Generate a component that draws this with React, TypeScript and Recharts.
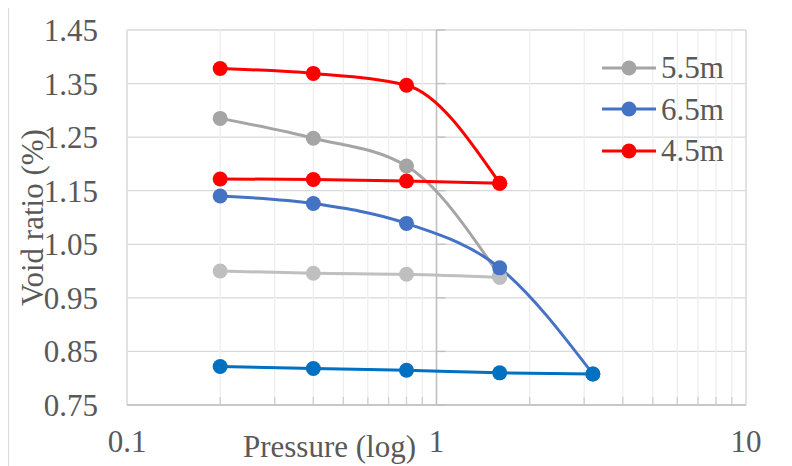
import React from 'react';
import { LineChart, Line, XAxis, YAxis, CartesianGrid, ReferenceLine } from 'recharts';

// applied pressure steps (log axis)
const pressures = [0.2, 0.4, 0.8, 1.6, 3.2];

// void ratio readings, loading then unloading branches
const load55 = [1.285, 1.248, 1.196, 0.991];
const unload55 = [1.0, 0.996, 0.994, 0.988];
const load65 = [1.14, 1.126, 1.089, 1.006, 0.808];
const unload65 = [0.822, 0.818, 0.815, 0.81, 0.808];
const load45 = [1.378, 1.369, 1.347, 1.164];
const unload45 = [1.172, 1.171, 1.168, 1.164];

const yTicks = [0.75, 0.85, 0.95, 1.05, 1.15, 1.25, 1.35, 1.45];
const xTicks = [0.1, 0.2, 0.3, 0.4, 0.5, 0.6, 0.7, 0.8, 0.9, 1, 2, 3, 4, 5, 6, 7, 8, 9, 10];
const xLabels = [0.1, 1, 10];
const minorTicks = xTicks.filter(t => !xLabels.includes(t));

const legendItems = [
  { name: '5.5m', color: '#A5A5A5' },
  { name: '6.5m', color: '#4472C4' },
  { name: '4.5m', color: '#FF0000' },
];

const toPoints = (vals: number[]) => vals.map((v, i) => ({ p: pressures[i], v }));

const series = [
  { key: 'l55', data: toPoints(load55), color: '#A5A5A5' },
  { key: 'u55', data: toPoints(unload55), color: '#BFBFBF' },
  { key: 'l65', data: toPoints(load65), color: '#4472C4' },
  { key: 'u65', data: toPoints(unload65), color: '#0070C0' },
  { key: 'l45', data: toPoints(load45), color: '#FF0000' },
  { key: 'u45', data: toPoints(unload45), color: '#FF0000' },
];

const FONT = '"Liberation Serif", "Times New Roman", serif';
const TEXT = '#595959';

// legend sits inside the plot area, so it is kept out of recharts' layout
const ChartLegend = () => (
  <div style={{ position: 'absolute', left: 594, top: 39, fontFamily: FONT }}>
    {legendItems.map(item => (
      <div key={item.name} style={{ display: 'flex', alignItems: 'center', height: 41.5 }}>
        <svg width={56} height={20}>
          <line x1={0} y1={10} x2={54} y2={10} stroke={item.color} strokeWidth={3} />
          <circle cx={27} cy={10} r={7.5} fill={item.color} />
        </svg>
        <span style={{ marginLeft: 3, fontSize: 31, color: TEXT, lineHeight: 1 }}>{item.name}</span>
      </div>
    ))}
  </div>
);

export default function App() {
  return (
    <div style={{ position: 'relative', width: 784, height: 458, fontFamily: FONT }}>
      <div
        style={{
          position: 'absolute',
          left: 0,
          top: -2,
          width: 784,
          height: 460,
          borderLeft: '1px solid #d9d9d9',
          borderTop: '1px solid #d9d9d9',
          boxSizing: 'border-box',
        }}
      />
      <LineChart width={784} height={458} margin={{ top: 22, right: 46, left: 10, bottom: 21 }}>
        <CartesianGrid vertical={false} stroke="#d9d9d9" strokeWidth={1.3} />
        <CartesianGrid horizontal={false} stroke="#eeeeee" strokeWidth={1.3} />
        <XAxis
          dataKey="p"
          type="number"
          scale="log"
          domain={[0.1, 10]}
          ticks={xTicks}
          interval={0}
          allowDataOverflow
          height={40}
          axisLine={{ stroke: '#bfbfbf', strokeWidth: 1.3 }}
          tickLine={false}
          tickSize={0}
          tickMargin={25}
          tick={{ fontSize: 31, fill: TEXT, fontFamily: FONT }}
          tickFormatter={(t: number) => (xLabels.includes(t) ? String(t) : '')}
          label={{ value: 'Pressure (log)', position: 'insideBottom', offset: -12, dx: -107, fill: TEXT, fontSize: 31, fontFamily: FONT }}
        />
        <YAxis
          type="number"
          domain={[0.75, 1.45]}
          ticks={yTicks}
          interval={0}
          width={109}
          axisLine={false}
          tickLine={false}
          tickSize={0}
          tickMargin={29}
          tick={{ fontSize: 31, fill: TEXT, fontFamily: FONT }}
          tickFormatter={(t: number) => t.toFixed(2)}
          label={{ value: 'Void ratio (%)', angle: -90, position: 'insideLeft', offset: 14, style: { textAnchor: 'middle' }, fill: TEXT, fontSize: 31, fontFamily: FONT }}
        />
        <ReferenceLine x={0.1} stroke="#d9d9d9" strokeWidth={1.3} />
        <ReferenceLine x={10} stroke="#d9d9d9" strokeWidth={1.3} />
        <ReferenceLine x={1} stroke="#bfbfbf" strokeWidth={1.5} />
        {yTicks.map(v => (
          <ReferenceLine key={'yt' + v} segment={[{ x: 1, y: v }, { x: 1.07, y: v }]} stroke="#bfbfbf" strokeWidth={1.3} />
        ))}
        {minorTicks.map(t => (
          <ReferenceLine key={'xt' + t} segment={[{ x: t, y: 0.75 }, { x: t, y: 0.765 }]} stroke="#d0d0d0" strokeWidth={1.3} />
        ))}
        {series.map(s => (
          <Line
            key={s.key}
            data={s.data}
            dataKey="v"
            type="monotone"
            stroke={s.color}
            strokeWidth={3}
            dot={{ r: 7.5, fill: s.color, stroke: 'none' }}
            activeDot={false}
            isAnimationActive={false}
            legendType="none"
          />
        ))}
      </LineChart>
      <ChartLegend />
    </div>
  );
}
